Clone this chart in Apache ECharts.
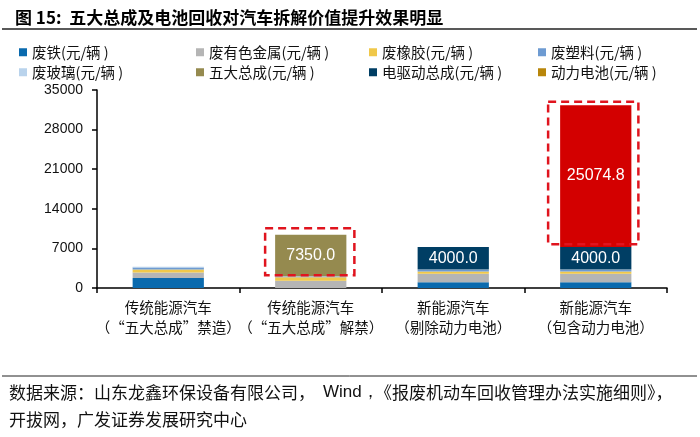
<!DOCTYPE html>
<html><head><meta charset="utf-8">
<script src="https://cdn.jsdelivr.net/npm/echarts@6/dist/echarts.min.js"></script>
<style>html,body{margin:0;padding:0;background:#fff}#c{width:700px;height:437px}</style>
</head><body><div id="c"></div>
<script>
const categories = ['传统能源汽车\n（“五大总成”禁造）', '传统能源汽车\n（“五大总成”解禁）', '新能源汽车\n（剔除动力电池）', '新能源汽车\n（包含动力电池）'];
const seriesNames = ['废铁(元/辆 )', '废有色金属(元/辆 )', '废橡胶(元/辆 )', '废塑料(元/辆 )', '废玻璃(元/辆 )', '五大总成(元/辆 )', '电驱动总成(元/辆 )', '动力电池(元/辆 )'];
const scrapIron = [1750, 0, 1000, 1000];
const scrapNonferrous = [1000, 1300, 1500, 1500];
const scrapRubber = [530, 600, 420, 420];
const scrapPlastic = [350, 150, 250, 250];
const scrapGlass = [140, 30, 80, 80];
const fiveAssemblies = ['-', 7350.0, '-', '-'];
const eDrive = ['-', '-', 4000.0, 4000.0];
const battery = ['-', '-', '-', 25074.8];
const yMin = 0, yMax = 35000, yInterval = 7000;

const colors = ['#0a6aae', '#b5b5b5', '#f0c84a', '#6e9bd2', '#b9d3ec', '#958a4f', '#003e64', '#b8860b'];
const allData = [scrapIron, scrapNonferrous, scrapRubber, scrapPlastic, scrapGlass, fiveAssemblies, eDrive, battery];

const cjk = '"Noto Sans CJK SC", sans-serif';
const lat = '"Liberation Sans", Arial, sans-serif';

const series = allData.map((d, i) => {
  const s = {
    name: seriesNames[i], type: 'bar', stack: 'total', barWidth: '50%',
    itemStyle: { color: colors[i] },
    data: d.map((v) => {
      if (i === 7 && v !== '-') return { value: v, itemStyle: { color: '#d30000' } };
      return v;
    })
  };
  if (i >= 5) {
    s.label = { show: true, position: 'inside', color: '#fff', fontSize: 16, fontFamily: lat,
      formatter: p => (typeof p.value === 'number' ? p.value.toFixed(1) : '') };
  }
  return s;
});

const legendLefts = [19, 196, 369, 538];
const legends = seriesNames.map((n, i) => ({
  orient: 'horizontal', padding: 0, itemWidth: 8, itemHeight: 8, icon: 'rect',
  left: legendLefts[i % 4], top: i < 4 ? 45 : 65, data: [n],
  textStyle: { fontSize: 14.5, fontFamily: cjk, color: '#111' }
}));

const chart = echarts.init(document.getElementById('c'));
chart.setOption({
  animation: false,
  backgroundColor: '#fff',
  color: colors,
  title: { text: '图 15:  五大总成及电池回收对汽车拆解价值提升效果明显', left: 10, top: 4,
    textStyle: { fontSize: 17, fontWeight: 'bold', fontFamily: cjk, color: '#000' } },
  legend: legends,
  grid: { left: 97, right: 33, top: 90, bottom: 149, containLabel: false },
  xAxis: {
    type: 'category', data: categories,
    axisLine: { lineStyle: { color: '#000', width: 1.5 } },
    axisTick: { show: true, length: 5, lineStyle: { color: '#000', width: 1.5 } },
    axisLabel: { color: '#111', fontSize: 14.5, fontFamily: cjk, lineHeight: 20, margin: 9, interval: 0 }
  },
  yAxis: {
    type: 'value', min: yMin, max: yMax, interval: yInterval,
    axisLine: { show: true, lineStyle: { color: '#000', width: 1.5 } },
    axisTick: { show: true, length: 5, lineStyle: { color: '#000', width: 1.5 } },
    splitLine: { show: false },
    axisLabel: { color: '#111', fontSize: 14, fontFamily: lat, margin: 14, formatter: v => String(v) }
  },
  series: series
});

function stackSum(j, upto) {
  let s = 0;
  for (let i = 0; i < upto; i++) { const v = allData[i][j]; if (typeof v === 'number') s += v; }
  return s;
}
const px = (j, v) => chart.convertToPixel({ gridIndex: 0 }, [j, v]);

const b1Bot = px(1, stackSum(1, 5));
const b1Top = px(1, stackSum(1, 6));
const b2Bot = px(3, stackSum(3, 7));
const b2Top = px(3, stackSum(3, 8));
const halfW = 71.25 / 2;

const dashStyle = { fill: 'none', stroke: '#e0141e', lineWidth: 2.5, lineDash: [8, 5] };
const srcStyle = { fontSize: 17, fontFamily: cjk, fill: '#111' };
const graphics = [
  { type: 'line', shape: { x1: 2, y1: 29, x2: 697, y2: 29 }, style: { stroke: '#222', lineWidth: 1.3 } },
  { type: 'line', shape: { x1: 2, y1: 376, x2: 697, y2: 376 }, style: { stroke: '#222', lineWidth: 1 } },
  { type: 'text', left: 9, top: 384, style: Object.assign({ text: '数据来源：山东龙鑫环保设备有限公司，' }, srcStyle) },
  { type: 'text', left: 323, top: 384, style: { text: 'Wind，', fontSize: 17, fontFamily: lat, fill: '#111' } },
  { type: 'text', left: 375, top: 384, style: Object.assign({ text: '《报废机动车回收管理办法实施细则》，' }, srcStyle) },
  { type: 'text', left: 9, top: 411, style: Object.assign({ text: '开拔网，广发证券发展研究中心' }, srcStyle) },
  { type: 'rect', shape: { x: b1Top[0] - halfW - 10, y: b1Top[1] - 6.5, width: 2 * halfW + 18, height: (b1Bot[1] - 1) - (b1Top[1] - 6.5) }, style: dashStyle, z: 100 },
  { type: 'rect', shape: { x: b2Top[0] - halfW - 12, y: b2Top[1] - 3.5, width: 2 * halfW + 19, height: (b2Bot[1] - 2.7) - (b2Top[1] - 3.5) }, style: dashStyle, z: 100 }
];
chart.setOption({ graphic: graphics });
</script>
</body></html>
